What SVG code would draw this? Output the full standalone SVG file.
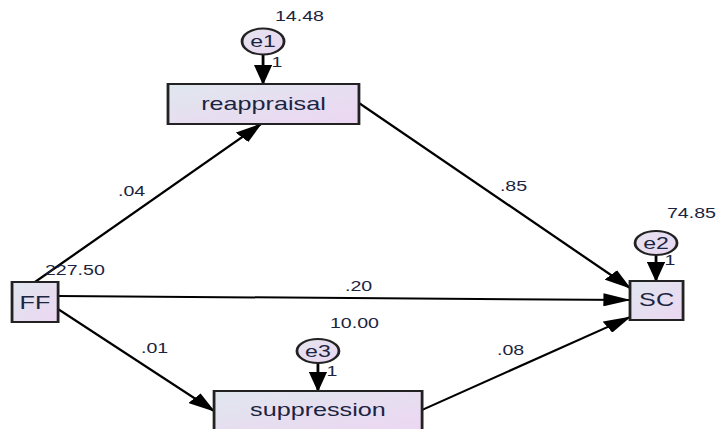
<svg xmlns="http://www.w3.org/2000/svg" width="716" height="429" viewBox="0 0 716 429">
  <defs>
    <linearGradient id="boxFill" x1="0" y1="0" x2="1" y2="1">
      <stop offset="0" stop-color="#e0e7ee"/>
      <stop offset="1" stop-color="#ecd6f2"/>
    </linearGradient>
    <linearGradient id="errFill" x1="0" y1="0" x2="1" y2="1">
      <stop offset="0" stop-color="#e6e4f0"/>
      <stop offset="1" stop-color="#e8d6f0"/>
    </linearGradient>
    <marker id="arrow" markerUnits="userSpaceOnUse" markerWidth="20" markerHeight="13" viewBox="0 0 20 13" refX="19" refY="6.5" orient="auto">
      <path d="M0,0 L20,6.5 L0,13 Z" fill="#000"/>
    </marker>
  </defs>
  <style>
    .box { fill: url(#boxFill); stroke: #222; stroke-width: 2; }
    .err { fill: url(#errFill); stroke: #222; stroke-width: 2; }
    .conn { stroke: #000; stroke-width: 2; fill: none; marker-end: url(#arrow); }
    text { font-family: "Liberation Sans", Arial, sans-serif; fill: #1b2440; }
    .node { font-size: 18px; text-anchor: middle; }
    .errt { font-size: 16.5px; text-anchor: middle; }
    .lbl { font-size: 14px; }
    .one { font-size: 14px; }
  </style>
  <rect width="716" height="429" fill="#ffffff"/>
  <g transform="scale(1.4,1)">
    <g id="connectors">
      <path class="conn" d="M25,282 L186.4,124"/>
      <path class="conn" d="M256.4,103 L450,288"/>
      <path class="conn" d="M41.4,296 L450,300"/>
      <path class="conn" d="M41.4,309 L152.9,411"/>
      <path class="conn" d="M301.4,410 L450,317"/>
      <path class="conn" d="M187.9,54.5 L187.9,84"/>
      <path class="conn" d="M468.6,255 L468.6,281"/>
      <path class="conn" d="M227.1,363 L227.1,391"/>
    </g>
    <g id="path-labels">
      <text class="lbl" x="84.3" y="196">.04</text>
      <text class="lbl" x="357.1" y="191">.85</text>
      <text class="lbl" x="246.4" y="291">.20</text>
      <text class="lbl" x="100.7" y="353">.01</text>
      <text class="lbl" x="355" y="355">.08</text>
    </g>
    <g id="node-reappraisal">
      <rect class="box" x="120" y="84" width="136.4" height="40"/>
      <text class="node" x="188.2" y="110">reappraisal</text>
    </g>
    <g id="node-FF">
      <rect class="box" x="8.6" y="282" width="32.9" height="40"/>
      <text class="node" x="25" y="309">FF</text>
      <text class="lbl" x="32.1" y="275">227.50</text>
    </g>
    <g id="node-SC">
      <rect class="box" x="450" y="281" width="37.9" height="39"/>
      <text class="node" x="469" y="306">SC</text>
    </g>
    <g id="node-suppression">
      <rect class="box" x="152.9" y="391" width="148.6" height="40"/>
      <text class="node" x="227.1" y="416">suppression</text>
    </g>
    <g id="node-e1">
      <ellipse class="err" cx="187.9" cy="41.5" rx="15" ry="13"/>
      <text class="errt" x="187.9" y="47.5">e1</text>
      <text class="lbl" x="196.4" y="21">14.48</text>
      <text class="one" x="194" y="67">1</text>
    </g>
    <g id="node-e2">
      <ellipse class="err" cx="468.6" cy="243" rx="15" ry="12"/>
      <text class="errt" x="468.6" y="249">e2</text>
      <text class="lbl" x="476.4" y="218">74.85</text>
      <text class="one" x="474.6" y="265">1</text>
    </g>
    <g id="node-e3">
      <ellipse class="err" cx="227.1" cy="351" rx="15" ry="12"/>
      <text class="errt" x="227.1" y="357">e3</text>
      <text class="lbl" x="235.7" y="328">10.00</text>
      <text class="one" x="233.2" y="376">1</text>
    </g>
  </g>
</svg>
